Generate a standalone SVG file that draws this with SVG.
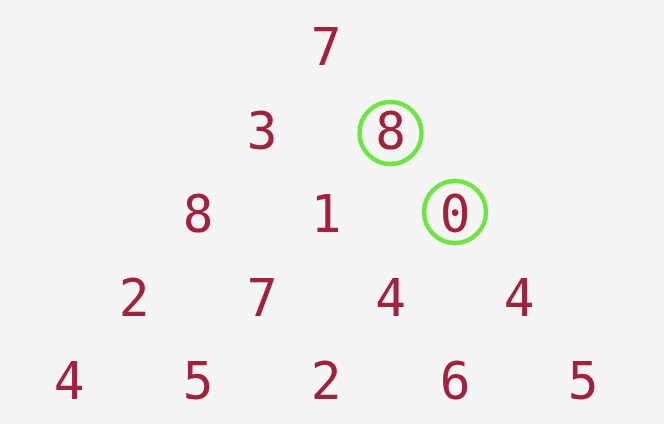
<svg xmlns="http://www.w3.org/2000/svg" width="664" height="424" viewBox="0 0 664 424">
<style>
.d{font-family:"DejaVu Sans Mono",monospace;font-size:51px;fill:#a3213c;text-anchor:middle}
.c{fill:none;stroke:#6ee640;stroke-width:4.5}
</style>
<rect width="664" height="424" fill="#f5f5f5"/>
<g id="connectors"/>
<g id="r1"><text class="d" x="326" y="65">7</text></g>
<g id="r2a"><text class="d" x="262" y="148.5">3</text></g>
<g id="r2b"><circle class="c" cx="390.5" cy="133" r="31"/><text class="d" x="390.5" y="148.5">8</text></g>
<g id="r3a"><text class="d" x="198" y="231.5">8</text></g>
<g id="r3b"><text class="d" x="326" y="231.5">1</text></g>
<g id="r3c"><circle class="c" cx="455" cy="212" r="31"/><text class="d" x="455" y="231.5">0</text></g>
<g id="r4a"><text class="d" x="134" y="316">2</text></g>
<g id="r4b"><text class="d" x="262" y="316">7</text></g>
<g id="r4c"><text class="d" x="390.5" y="316">4</text></g>
<g id="r4d"><text class="d" x="519" y="316">4</text></g>
<g id="r5a"><text class="d" x="69" y="399">4</text></g>
<g id="r5b"><text class="d" x="198" y="399">5</text></g>
<g id="r5c"><text class="d" x="326" y="399">2</text></g>
<g id="r5d"><text class="d" x="455" y="399">6</text></g>
<g id="r5e"><text class="d" x="583" y="399">5</text></g>
</svg>
